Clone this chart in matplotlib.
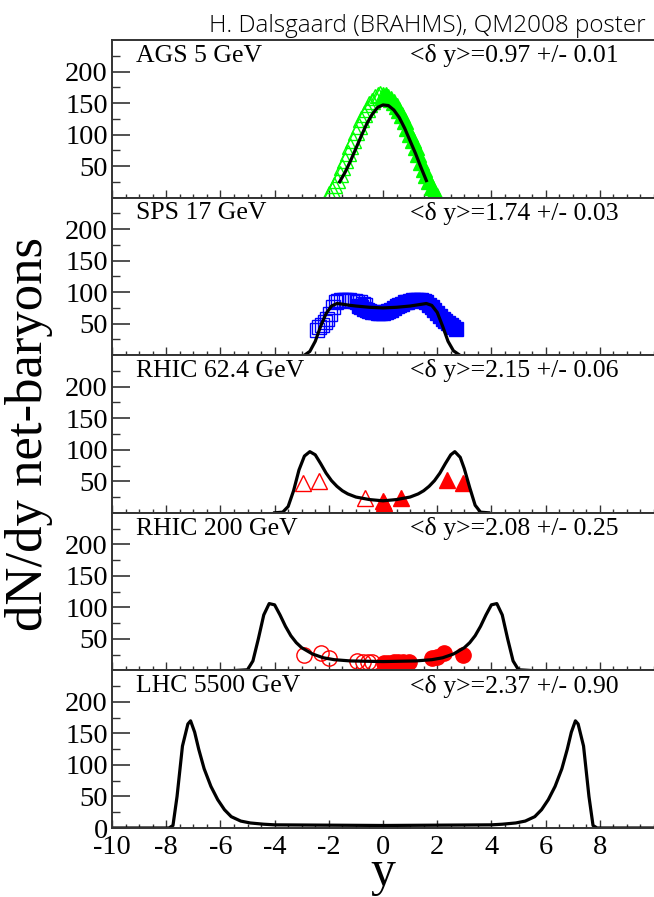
import numpy as np
import matplotlib
matplotlib.use('Agg')
import matplotlib.pyplot as plt
from matplotlib.ticker import MultipleLocator, FixedLocator

# panel labels
names = ['AGS 5 GeV', 'SPS 17 GeV', 'RHIC 62.4 GeV', 'RHIC 200 GeV', 'LHC 5500 GeV']
widths = ['<δ y>=0.97 +/- 0.01', '<δ y>=1.74 +/- 0.03', '<δ y>=2.15 +/- 0.06',
          '<δ y>=2.08 +/- 0.25', '<δ y>=2.37 +/- 0.90']

# fit curves
ags_x = [-1.6, -1.4, -1.2, -1.0, -0.8, -0.6, -0.4, -0.2, 0.0, 0.2, 0.4, 0.6, 0.8, 1.0, 1.2, 1.4, 1.6]
ags_y = [25, 40, 58, 78, 98, 117, 132, 143, 147, 146, 139, 127, 110, 90, 70, 48, 27]

sps_x = [-2.9, -2.7, -2.5, -2.3, -2.1, -1.9, -1.7, -1.5, -1.2, -1.0, -0.5, 0.0, 0.5, 1.0,
         1.3, 1.6, 1.8, 2.0, 2.2, 2.4, 2.6, 2.8]
sps_y = [0, 6, 22, 46, 66, 78, 82, 81, 79, 78, 76, 75, 76, 78, 80, 82, 79, 68, 46, 22, 7, 1]

r62_x = [-4.0, -3.7, -3.5, -3.3, -3.1, -2.9, -2.7, -2.5, -2.3, -2.1, -1.9, -1.7, -1.5, -1.3,
         -1.0, -0.5, 0.0, 0.5, 1.0, 1.3, 1.5, 1.7, 1.9, 2.1, 2.3, 2.5, 2.65, 2.85, 3.0, 3.2,
         3.4, 3.6, 3.9]
r62_y = [0, 1, 10, 35, 68, 90, 97, 92, 78, 63, 51, 42, 35, 30, 25, 21, 19, 21, 25, 30, 35,
         42, 51, 63, 78, 92, 97, 88, 70, 40, 12, 1, 0]

r200_x = [-5.4, -5.0, -4.8, -4.6, -4.4, -4.2, -4.0, -3.8, -3.6, -3.4, -3.2, -3.0, -2.6, -2.2,
          -1.8, -1.2, 0.0, 1.2, 1.8, 2.2, 2.6, 3.0, 3.2, 3.4, 3.6, 3.8, 4.0, 4.2, 4.4, 4.6,
          4.8, 5.0, 5.4]
r200_y = [0, 1, 15, 50, 88, 106, 104, 88, 70, 55, 44, 36, 26, 20, 17, 15, 14, 15, 17, 20,
          26, 36, 44, 55, 70, 88, 104, 106, 88, 50, 15, 1, 0]

lhc_x = [-10, -7.9, -7.75, -7.6, -7.4, -7.2, -7.1, -6.95, -6.8, -6.6, -6.35, -6.1, -5.85,
         -5.6, -5.25, -4.9, -4.4, -4.0, 0.0, 4.0, 4.4, 4.9, 5.25, 5.6, 5.85, 6.1, 6.35, 6.6,
         6.8, 6.95, 7.1, 7.2, 7.4, 7.6, 7.75, 7.9, 10]
lhc_y = [0, 0, 4, 50, 130, 165, 170, 152, 125, 94, 66, 45, 29, 18, 11, 8, 6, 5, 4, 5, 6, 8,
         11, 18, 29, 45, 66, 94, 125, 152, 170, 165, 130, 50, 4, 0, 0]

# data points
ags_open_x = [-2.0, -1.9, -1.8, -1.7, -1.6, -1.5, -1.4, -1.3, -1.2, -1.1, -1.0, -0.9, -0.8,
              -0.7, -0.6, -0.5, -0.4, -0.3, -0.2, -0.1, 0.0]
ags_open_y = [5, 12, 20, 28, 38, 48, 60, 70, 82, 92, 104, 114, 124, 132, 140, 148, 154, 159,
              162, 164, 163]
ags_full_x = [0.0, 0.1, 0.2, 0.3, 0.4, 0.5, 0.6, 0.7, 0.8, 0.9, 1.0, 1.1, 1.2, 1.3, 1.4, 1.5,
              1.6, 1.7, 1.8, 1.9, 2.0]
ags_full_y = [160, 162, 160, 157, 152, 146, 139, 131, 121, 111, 101, 91, 81, 69, 57, 46, 36,
              26, 17, 9, 3]

sps_open_x = [-2.45, -2.35, -2.25, -2.15, -2.05, -1.95, -1.85, -1.75, -1.65, -1.55, -1.45,
              -1.35, -1.25, -1.15, -1.05, -0.95, -0.85, -0.75, -0.65]
sps_open_y = [40, 44, 48, 52, 58, 66, 76, 84, 86, 87, 88, 88, 87, 86, 86, 85, 84, 82, 80]
sps_full_x = [-0.9, -0.8, -0.7, -0.6, -0.5, -0.4, -0.3, -0.2, -0.1, 0.0, 0.1, 0.2, 0.3, 0.4,
              0.5, 0.6, 0.7, 0.8, 0.9, 1.0, 1.1, 1.2, 1.3, 1.4, 1.5, 1.6, 1.7, 1.8, 1.9, 2.0,
              2.1, 2.2, 2.3, 2.4, 2.5, 2.6, 2.7]
sps_full_y = [78, 76, 74, 72, 70, 69, 68, 67, 67, 67, 68, 70, 72, 75, 78, 80, 82, 84, 85, 86,
              87, 88, 88, 87, 86, 84, 80, 76, 72, 67, 62, 58, 55, 51, 48, 45, 42]

r62_open_x = [-2.95, -2.35, -0.65]
r62_open_y = [48, 50, 24]
r62_full_x = [0.0, 0.05, 0.65, 2.35, 2.95]
r62_full_y = [19, 15, 24, 52, 48]

r200_open_x = [-2.9, -2.3, -2.0, -0.95, -0.75, -0.55, -0.4]
r200_open_y = [24, 27, 19, 15, 14, 14, 13]
r200_full_x = [0.05, 0.2, 0.4, 0.55, 0.75, 0.95, 1.8, 2.0, 2.25, 2.95]
r200_full_y = [12, 12, 13, 13, 14, 14, 20, 22, 27, 24]

plt.rcParams['font.family'] = ['Liberation Serif', 'DejaVu Serif']

fig, axes = plt.subplots(5, 1, figsize=(6.54, 8.97), dpi=100, sharex=True)
fig.subplots_adjust(left=112/654, right=1.0, top=1-40/897, bottom=1-828/897, hspace=0)

curves = [(ags_x, ags_y), (sps_x, sps_y), (r62_x, r62_y), (r200_x, r200_y), (lhc_x, lhc_y)]

# markers
ax = axes[0]
ax.plot(ags_open_x, ags_open_y, '^', ms=11, mfc='none', mec='#00ff00', mew=1)
ax.plot(ags_full_x, ags_full_y, '^', ms=11, color='#00ff00')
ax = axes[1]
ax.plot(sps_open_x, sps_open_y, 's', ms=9.5, mfc='none', mec='#0000ff', mew=1)
ax.plot(sps_full_x, sps_full_y, 's', ms=9.5, color='#0000ff')
ax = axes[2]
ax.plot(r62_open_x, r62_open_y, '^', ms=11, mfc='none', mec='#ff0000', mew=1)
ax.plot(r62_full_x, r62_full_y, '^', ms=11, color='#ff0000')
ax = axes[3]
ax.plot(r200_open_x, r200_open_y, 'o', ms=11, mfc='none', mec='#ff0000', mew=1)
ax.plot(r200_full_x, r200_full_y, 'o', ms=11, color='#ff0000')

for i, ax in enumerate(axes):
    cx, cy = curves[i]
    ax.plot(cx, cy, color='black', lw=2.3)
    ax.set_xlim(-10, 10)
    ax.set_ylim(0, 250)
    ax.spines['right'].set_visible(False)
    for s in ['left', 'bottom', 'top']:
        ax.spines[s].set_linewidth(1.4)
        ax.spines[s].set_color('#333333')
    if i == 4:
        ax.yaxis.set_major_locator(FixedLocator([0, 50, 100, 150, 200]))
    else:
        ax.yaxis.set_major_locator(FixedLocator([50, 100, 150, 200]))
    ax.yaxis.set_minor_locator(FixedLocator([25, 75, 125, 175, 225]))
    ax.xaxis.set_major_locator(MultipleLocator(2))
    ax.xaxis.set_minor_locator(MultipleLocator(0.5))
    ax.tick_params(axis='y', which='major', direction='in', length=13, width=1.2,
                   labelsize=20.5, pad=3, color='#333333')
    ax.tick_params(axis='y', which='minor', direction='in', length=6, width=1.0,
                   color='#333333')
    ax.tick_params(axis='x', which='major', direction='in', length=6, width=1.0,
                   labelsize=20.5, pad=5, color='#333333')
    ax.tick_params(axis='x', which='minor', direction='in', length=3, width=1.0,
                   color='#333333')
    ax.text(0.045, 0.9, names[i], transform=ax.transAxes, fontsize=18.5, va='center')
    # delta-y text: x in data units, y in axes units
    ax.text(1.0, 0.9, widths[i], transform=ax.get_xaxis_transform(), fontsize=18.5,
            va='center', ha='left')

axes[4].set_xticks([-10, -8, -6, -4, -2, 0, 2, 4, 6, 8])
axes[4].set_xticklabels(['-10', '-8', '-6', '-4', '-2', '0', '2', '4', '6', '8'])

# axis titles
fig.text(383/654, 1-885/897, 'y', fontsize=36, ha='center', va='baseline')
fig.text(0.045, (1-40/897 + 1-828/897)/2, 'dN/dy net-baryons', rotation=90,
         fontsize=38, ha='center', va='center')

fig.text(0.987, 1-32/897, 'H. Dalsgaard (BRAHMS), QM2008 poster', ha='right',
         va='baseline', fontsize=17.5, family='Open Sans', fontweight='light')

fig.savefig('out.png', dpi=100)
